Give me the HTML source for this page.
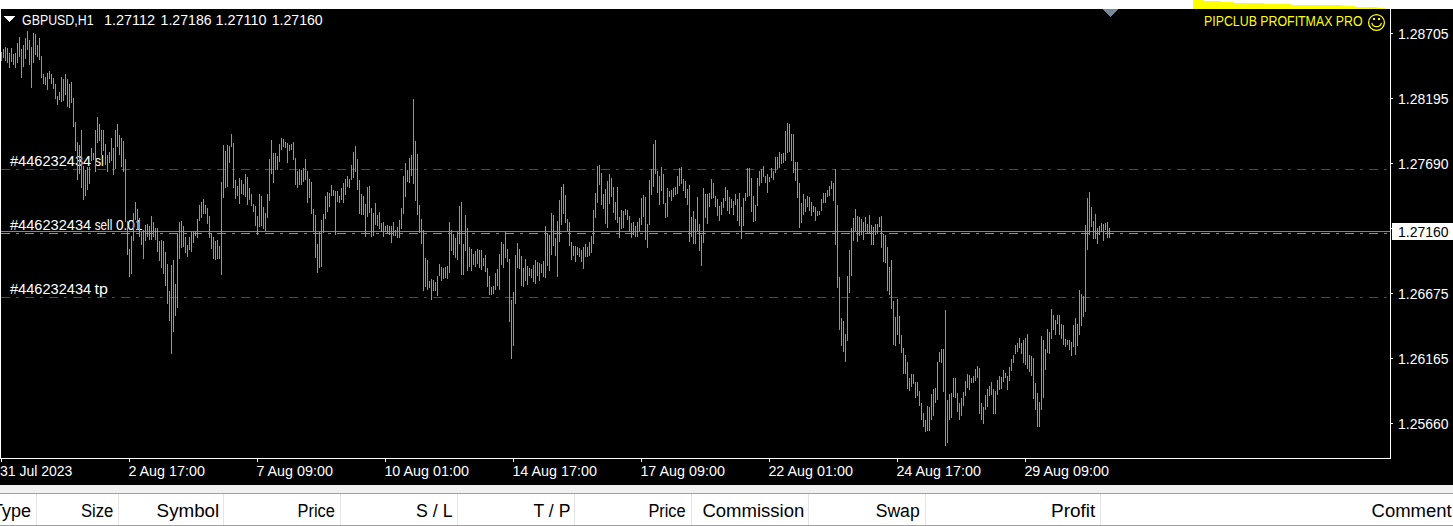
<!DOCTYPE html>
<html><head><meta charset="utf-8"><title>GBPUSD,H1</title>
<style>
html,body{margin:0;padding:0;width:1453px;height:526px;overflow:hidden;background:#ffffff;}
svg{display:block;font-family:"Liberation Sans",sans-serif;}
</style></head><body>
<svg width="1453" height="526" viewBox="0 0 1453 526" shape-rendering="crispEdges">
<rect x="0" y="0" width="1453" height="9" fill="#ffffff"/>
<rect x="1193" y="0" width="10" height="9" fill="#ffff00"/>
<rect x="1203" y="1" width="18" height="8" fill="#ffff00"/>
<rect x="1221" y="2" width="12" height="7" fill="#ffff00"/>
<rect x="1233" y="3" width="31" height="6" fill="#ffff00"/>
<rect x="1264" y="4" width="27" height="5" fill="#ffff00"/>
<rect x="1291" y="5" width="52" height="4" fill="#ffff00"/>
<rect x="1343" y="6" width="12" height="3" fill="#ffff00"/>
<rect x="1355" y="7" width="22" height="2" fill="#ffff00"/>
<rect x="1377" y="8" width="8" height="1" fill="#ffff00"/>
<rect x="0" y="9" width="1453" height="476" fill="#000000"/>
<rect x="0" y="485" width="1453" height="8" fill="#f0f0f0"/>
<rect x="0" y="493" width="1453" height="1" fill="#a0a0a0"/>
<rect x="0" y="494" width="1453" height="31" fill="#ffffff"/>
<rect x="0" y="525" width="1453" height="1" fill="#a0a0a0"/>
<rect x="36" y="494" width="1" height="31" fill="#e5e5e5"/>
<rect x="118" y="494" width="1" height="31" fill="#e5e5e5"/>
<rect x="223" y="494" width="1" height="31" fill="#e5e5e5"/>
<rect x="340" y="494" width="1" height="31" fill="#e5e5e5"/>
<rect x="457" y="494" width="1" height="31" fill="#e5e5e5"/>
<rect x="574" y="494" width="1" height="31" fill="#e5e5e5"/>
<rect x="691" y="494" width="1" height="31" fill="#e5e5e5"/>
<rect x="808" y="494" width="1" height="31" fill="#e5e5e5"/>
<rect x="925" y="494" width="1" height="31" fill="#e5e5e5"/>
<rect x="1100" y="494" width="1" height="31" fill="#e5e5e5"/>
<rect x="0" y="9" width="1" height="450" fill="#ffffff"/>
<rect x="1390" y="9" width="1" height="450" fill="#ffffff"/>
<rect x="0" y="458" width="1391" height="1" fill="#ffffff"/>
<rect x="1" y="459" width="1" height="3" fill="#ffffff"/>
<rect x="129" y="459" width="1" height="3" fill="#ffffff"/>
<rect x="257" y="459" width="1" height="3" fill="#ffffff"/>
<rect x="385" y="459" width="1" height="3" fill="#ffffff"/>
<rect x="513" y="459" width="1" height="3" fill="#ffffff"/>
<rect x="641" y="459" width="1" height="3" fill="#ffffff"/>
<rect x="769" y="459" width="1" height="3" fill="#ffffff"/>
<rect x="897" y="459" width="1" height="3" fill="#ffffff"/>
<rect x="1025" y="459" width="1" height="3" fill="#ffffff"/>
<rect x="1391" y="33" width="2" height="1" fill="#ffffff"/>
<rect x="1391" y="98" width="2" height="1" fill="#ffffff"/>
<rect x="1391" y="163" width="2" height="1" fill="#ffffff"/>
<rect x="1391" y="293" width="2" height="1" fill="#ffffff"/>
<rect x="1391" y="358" width="2" height="1" fill="#ffffff"/>
<rect x="1391" y="423" width="2" height="1" fill="#ffffff"/>
<path d="M1 169.5h9M16 169.5h3M25 169.5h9M40 169.5h3M49 169.5h9M64 169.5h3M73 169.5h9M88 169.5h3M97 169.5h9M112 169.5h3M121 169.5h9M136 169.5h3M145 169.5h9M160 169.5h3M169 169.5h9M184 169.5h3M193 169.5h9M208 169.5h3M217 169.5h9M232 169.5h3M241 169.5h9M256 169.5h3M265 169.5h9M280 169.5h3M289 169.5h9M304 169.5h3M313 169.5h9M328 169.5h3M337 169.5h9M352 169.5h3M361 169.5h9M376 169.5h3M385 169.5h9M400 169.5h3M409 169.5h9M424 169.5h3M433 169.5h9M448 169.5h3M457 169.5h9M472 169.5h3M481 169.5h9M496 169.5h3M505 169.5h9M520 169.5h3M529 169.5h9M544 169.5h3M553 169.5h9M568 169.5h3M577 169.5h9M592 169.5h3M601 169.5h9M616 169.5h3M625 169.5h9M640 169.5h3M649 169.5h9M664 169.5h3M673 169.5h9M688 169.5h3M697 169.5h9M712 169.5h3M721 169.5h9M736 169.5h3M745 169.5h9M760 169.5h3M769 169.5h9M784 169.5h3M793 169.5h9M808 169.5h3M817 169.5h9M832 169.5h3M841 169.5h9M856 169.5h3M865 169.5h9M880 169.5h3M889 169.5h9M904 169.5h3M913 169.5h9M928 169.5h3M937 169.5h9M952 169.5h3M961 169.5h9M976 169.5h3M985 169.5h9M1000 169.5h3M1009 169.5h9M1024 169.5h3M1033 169.5h9M1048 169.5h3M1057 169.5h9M1072 169.5h3M1081 169.5h9M1096 169.5h3M1105 169.5h9M1120 169.5h3M1129 169.5h9M1144 169.5h3M1153 169.5h9M1168 169.5h3M1177 169.5h9M1192 169.5h3M1201 169.5h9M1216 169.5h3M1225 169.5h9M1240 169.5h3M1249 169.5h9M1264 169.5h3M1273 169.5h9M1288 169.5h3M1297 169.5h9M1312 169.5h3M1321 169.5h9M1336 169.5h3M1345 169.5h9M1360 169.5h3M1369 169.5h9M1384 169.5h3" stroke="#ff0000" stroke-width="1" fill="none"/>
<path d="M1 297.5h9M16 297.5h3M25 297.5h9M40 297.5h3M49 297.5h9M64 297.5h3M73 297.5h9M88 297.5h3M97 297.5h9M112 297.5h3M121 297.5h9M136 297.5h3M145 297.5h9M160 297.5h3M169 297.5h9M184 297.5h3M193 297.5h9M208 297.5h3M217 297.5h9M232 297.5h3M241 297.5h9M256 297.5h3M265 297.5h9M280 297.5h3M289 297.5h9M304 297.5h3M313 297.5h9M328 297.5h3M337 297.5h9M352 297.5h3M361 297.5h9M376 297.5h3M385 297.5h9M400 297.5h3M409 297.5h9M424 297.5h3M433 297.5h9M448 297.5h3M457 297.5h9M472 297.5h3M481 297.5h9M496 297.5h3M505 297.5h9M520 297.5h3M529 297.5h9M544 297.5h3M553 297.5h9M568 297.5h3M577 297.5h9M592 297.5h3M601 297.5h9M616 297.5h3M625 297.5h9M640 297.5h3M649 297.5h9M664 297.5h3M673 297.5h9M688 297.5h3M697 297.5h9M712 297.5h3M721 297.5h9M736 297.5h3M745 297.5h9M760 297.5h3M769 297.5h9M784 297.5h3M793 297.5h9M808 297.5h3M817 297.5h9M832 297.5h3M841 297.5h9M856 297.5h3M865 297.5h9M880 297.5h3M889 297.5h9M904 297.5h3M913 297.5h9M928 297.5h3M937 297.5h9M952 297.5h3M961 297.5h9M976 297.5h3M985 297.5h9M1000 297.5h3M1009 297.5h9M1024 297.5h3M1033 297.5h9M1048 297.5h3M1057 297.5h9M1072 297.5h3M1081 297.5h9M1096 297.5h3M1105 297.5h9M1120 297.5h3M1129 297.5h9M1144 297.5h3M1153 297.5h9M1168 297.5h3M1177 297.5h9M1192 297.5h3M1201 297.5h9M1216 297.5h3M1225 297.5h9M1240 297.5h3M1249 297.5h9M1264 297.5h3M1273 297.5h9M1288 297.5h3M1297 297.5h9M1312 297.5h3M1321 297.5h9M1336 297.5h3M1345 297.5h9M1360 297.5h3M1369 297.5h9M1384 297.5h3" stroke="#ff0000" stroke-width="1" fill="none"/>
<rect x="1" y="231" width="1389" height="1" fill="#778899"/>
<path d="M1 233.5h9M16 233.5h3M25 233.5h9M40 233.5h3M49 233.5h9M64 233.5h3M73 233.5h9M88 233.5h3M97 233.5h9M112 233.5h3M121 233.5h9M136 233.5h3M145 233.5h9M160 233.5h3M169 233.5h9M184 233.5h3M193 233.5h9M208 233.5h3M217 233.5h9M232 233.5h3M241 233.5h9M256 233.5h3M265 233.5h9M280 233.5h3M289 233.5h9M304 233.5h3M313 233.5h9M328 233.5h3M337 233.5h9M352 233.5h3M361 233.5h9M376 233.5h3M385 233.5h9M400 233.5h3M409 233.5h9M424 233.5h3M433 233.5h9M448 233.5h3M457 233.5h9M472 233.5h3M481 233.5h9M496 233.5h3M505 233.5h9M520 233.5h3M529 233.5h9M544 233.5h3M553 233.5h9M568 233.5h3M577 233.5h9M592 233.5h3M601 233.5h9M616 233.5h3M625 233.5h9M640 233.5h3M649 233.5h9M664 233.5h3M673 233.5h9M688 233.5h3M697 233.5h9M712 233.5h3M721 233.5h9M736 233.5h3M745 233.5h9M760 233.5h3M769 233.5h9M784 233.5h3M793 233.5h9M808 233.5h3M817 233.5h9M832 233.5h3M841 233.5h9M856 233.5h3M865 233.5h9M880 233.5h3M889 233.5h9M904 233.5h3M913 233.5h9M928 233.5h3M937 233.5h9M952 233.5h3M961 233.5h9M976 233.5h3M985 233.5h9M1000 233.5h3M1009 233.5h9M1024 233.5h3M1033 233.5h9M1048 233.5h3M1057 233.5h9M1072 233.5h3M1081 233.5h9M1096 233.5h3M1105 233.5h9M1120 233.5h3M1129 233.5h9M1144 233.5h3M1153 233.5h9M1168 233.5h3M1177 233.5h9M1192 233.5h3M1201 233.5h9M1216 233.5h3M1225 233.5h9M1240 233.5h3M1249 233.5h9M1264 233.5h3M1273 233.5h9M1288 233.5h3M1297 233.5h9M1312 233.5h3M1321 233.5h9M1336 233.5h3M1345 233.5h9M1360 233.5h3M1369 233.5h9M1384 233.5h3" stroke="#32cd32" stroke-width="1" fill="none"/>
<rect x="1391" y="228" width="1" height="1" fill="#ffffff"/>
<rect x="1392" y="223" width="61" height="17" fill="#ffffff"/>
<path d="M4 16 L15 16 L9.5 22 Z" fill="#ffffff"/>
<path d="M1103 9 L1118 9 L1110.5 17 Z" fill="#778899"/>
<g shape-rendering="geometricPrecision"><circle cx="1376.5" cy="22.5" r="7.9" stroke="#ffff00" stroke-width="1.3" fill="none"/><path d="M1371.8 22.8 A4.9 4.9 0 0 0 1381.4 22.8" stroke="#ffff00" stroke-width="1.2" fill="none"/></g>
<rect x="1373" y="18" width="2" height="2" fill="#ffff00"/>
<rect x="1378" y="18" width="2" height="2" fill="#ffff00"/>
<g><text x="22" y="25" font-size="14" fill="#ffffff" text-anchor="start" textLength="71.6" lengthAdjust="spacingAndGlyphs" xml:space="preserve">GBPUSD,H1</text>
<text x="104" y="25" font-size="14" fill="#ffffff" text-anchor="start" textLength="51" lengthAdjust="spacingAndGlyphs" xml:space="preserve">1.27112</text>
<text x="160.6" y="25" font-size="14" fill="#ffffff" text-anchor="start" textLength="51" lengthAdjust="spacingAndGlyphs" xml:space="preserve">1.27186</text>
<text x="215.6" y="25" font-size="14" fill="#ffffff" text-anchor="start" textLength="51" lengthAdjust="spacingAndGlyphs" xml:space="preserve">1.27110</text>
<text x="271.7" y="25" font-size="14" fill="#ffffff" text-anchor="start" textLength="51" lengthAdjust="spacingAndGlyphs" xml:space="preserve">1.27160</text>
<text x="1204" y="26" font-size="14" fill="#ffff00" text-anchor="start" textLength="158.6" lengthAdjust="spacingAndGlyphs" xml:space="preserve">PIPCLUB PROFITMAX PRO</text>
<text x="1398" y="39" font-size="14" fill="#ffffff" text-anchor="start" textLength="50.5" lengthAdjust="spacingAndGlyphs" xml:space="preserve">1.28705</text>
<text x="1398" y="104" font-size="14" fill="#ffffff" text-anchor="start" textLength="50.5" lengthAdjust="spacingAndGlyphs" xml:space="preserve">1.28195</text>
<text x="1398" y="169" font-size="14" fill="#ffffff" text-anchor="start" textLength="50.5" lengthAdjust="spacingAndGlyphs" xml:space="preserve">1.27690</text>
<text x="1398" y="299" font-size="14" fill="#ffffff" text-anchor="start" textLength="50.5" lengthAdjust="spacingAndGlyphs" xml:space="preserve">1.26675</text>
<text x="1398" y="364" font-size="14" fill="#ffffff" text-anchor="start" textLength="50.5" lengthAdjust="spacingAndGlyphs" xml:space="preserve">1.26165</text>
<text x="1398" y="429" font-size="14" fill="#ffffff" text-anchor="start" textLength="50.5" lengthAdjust="spacingAndGlyphs" xml:space="preserve">1.25660</text>
<text x="1398" y="237" font-size="14" fill="#000000" text-anchor="start" textLength="50.5" lengthAdjust="spacingAndGlyphs" xml:space="preserve">1.27160</text>
<text x="0" y="476" font-size="14" fill="#ffffff" text-anchor="start" xml:space="preserve">31 Jul 2023</text>
<text x="128.4" y="476" font-size="14" fill="#ffffff" text-anchor="start" textLength="76.54" lengthAdjust="spacingAndGlyphs" xml:space="preserve">2 Aug 17:00</text>
<text x="256.4" y="476" font-size="14" fill="#ffffff" text-anchor="start" textLength="76.54" lengthAdjust="spacingAndGlyphs" xml:space="preserve">7 Aug 09:00</text>
<text x="384.4" y="476" font-size="14" fill="#ffffff" text-anchor="start" textLength="84.51" lengthAdjust="spacingAndGlyphs" xml:space="preserve">10 Aug 01:00</text>
<text x="512.4" y="476" font-size="14" fill="#ffffff" text-anchor="start" textLength="84.51" lengthAdjust="spacingAndGlyphs" xml:space="preserve">14 Aug 17:00</text>
<text x="640.4" y="476" font-size="14" fill="#ffffff" text-anchor="start" textLength="84.51" lengthAdjust="spacingAndGlyphs" xml:space="preserve">17 Aug 09:00</text>
<text x="768.4" y="476" font-size="14" fill="#ffffff" text-anchor="start" textLength="84.51" lengthAdjust="spacingAndGlyphs" xml:space="preserve">22 Aug 01:00</text>
<text x="896.4" y="476" font-size="14" fill="#ffffff" text-anchor="start" textLength="84.51" lengthAdjust="spacingAndGlyphs" xml:space="preserve">24 Aug 17:00</text>
<text x="1024.4" y="476" font-size="14" fill="#ffffff" text-anchor="start" textLength="84.51" lengthAdjust="spacingAndGlyphs" xml:space="preserve">29 Aug 09:00</text>
<text x="10" y="166" font-size="14" fill="#ffffff" text-anchor="start" textLength="81.2" lengthAdjust="spacingAndGlyphs" xml:space="preserve">#446232434</text>
<text x="10" y="230" font-size="14" fill="#ffffff" text-anchor="start" textLength="81.2" lengthAdjust="spacingAndGlyphs" xml:space="preserve">#446232434</text>
<text x="10" y="294" font-size="14" fill="#ffffff" text-anchor="start" textLength="81.2" lengthAdjust="spacingAndGlyphs" xml:space="preserve">#446232434</text>
<text x="94.7" y="166" font-size="14" fill="#ffffff" text-anchor="start" textLength="9.2" lengthAdjust="spacingAndGlyphs" xml:space="preserve">sl</text>
<text x="94.7" y="230" font-size="14" fill="#ffffff" text-anchor="start" textLength="17.6" lengthAdjust="spacingAndGlyphs" xml:space="preserve">sell</text>
<text x="116.0" y="230" font-size="14" fill="#ffffff" text-anchor="start" textLength="26.5" lengthAdjust="spacingAndGlyphs" xml:space="preserve">0.01</text>
<text x="94.6" y="294" font-size="14" fill="#ffffff" text-anchor="start" textLength="13.4" lengthAdjust="spacingAndGlyphs" xml:space="preserve">tp</text>
<text x="31" y="517" font-size="18" fill="#000000" text-anchor="end" xml:space="preserve">Type</text>
<text x="80.9" y="517" font-size="18" fill="#000000" text-anchor="start" textLength="32.36" lengthAdjust="spacingAndGlyphs" xml:space="preserve">Size</text>
<text x="156.6" y="517" font-size="18" fill="#000000" text-anchor="start" textLength="62.66" lengthAdjust="spacingAndGlyphs" xml:space="preserve">Symbol</text>
<text x="297.5" y="517" font-size="18" fill="#000000" text-anchor="start" textLength="37.33" lengthAdjust="spacingAndGlyphs" xml:space="preserve">Price</text>
<text x="416.1" y="517" font-size="18" fill="#000000" text-anchor="start" textLength="36.4" lengthAdjust="spacingAndGlyphs" xml:space="preserve">S / L</text>
<text x="533.6" y="517" font-size="18" fill="#000000" text-anchor="start" textLength="36.75" lengthAdjust="spacingAndGlyphs" xml:space="preserve">T / P</text>
<text x="648.4" y="517" font-size="18" fill="#000000" text-anchor="start" textLength="37.23" lengthAdjust="spacingAndGlyphs" xml:space="preserve">Price</text>
<text x="702.4" y="517" font-size="18" fill="#000000" text-anchor="start" textLength="101.92" lengthAdjust="spacingAndGlyphs" xml:space="preserve">Commission</text>
<text x="875.7" y="517" font-size="18" fill="#000000" text-anchor="start" textLength="43.98" lengthAdjust="spacingAndGlyphs" xml:space="preserve">Swap</text>
<text x="1051.1" y="517" font-size="18" fill="#000000" text-anchor="start" textLength="44.22" lengthAdjust="spacingAndGlyphs" xml:space="preserve">Profit</text>
<text x="1371.6" y="517" font-size="18" fill="#000000" text-anchor="start" textLength="80.08" lengthAdjust="spacingAndGlyphs" xml:space="preserve">Comment</text></g>
<path d="M1.5 52V61M3.5 49V58M5.5 47V61M7.5 48V63M9.5 53V68M11.5 48V62M13.5 54V65M15.5 53V68M17.5 43V63M19.5 37V57M21.5 49V78M23.5 45V67M25.5 38V59M27.5 31V50M29.5 40V65M31.5 47V88M33.5 33V63M35.5 34V55M37.5 45V57M39.5 38V60M41.5 56V78M43.5 74V84M45.5 77V85M47.5 73V90M49.5 71V79M51.5 74V84M53.5 78V89M55.5 84V99M57.5 96V105M59.5 92V100M61.5 77V102M63.5 79V101M65.5 74V95M67.5 79V107M69.5 84V108M71.5 82V103M73.5 98V127M75.5 122V151M77.5 142V180M79.5 145V174M81.5 130V188M83.5 166V200M85.5 170V196M87.5 167V190M89.5 167V184M91.5 148V161M93.5 153V160M95.5 130V172M97.5 117V143M99.5 124V141M101.5 130V155M103.5 130V151M105.5 144V165M107.5 155V172M109.5 152V163M111.5 138V161M113.5 148V175M115.5 130V169M117.5 124V147M119.5 135V155M121.5 138V167M123.5 141V172M125.5 159V222M127.5 221V255M129.5 249V277M131.5 236V274M133.5 213V241M135.5 202V220M137.5 209V230M139.5 218V237M141.5 232V245M143.5 230V259M145.5 225V241M147.5 224V237M149.5 226V240M151.5 216V240M153.5 222V237M155.5 228V240M157.5 228V252M159.5 241V261M161.5 240V268M163.5 241V274M165.5 252V286M167.5 264V304M169.5 291V321M171.5 265V354M173.5 260V332M175.5 284V316M177.5 234V308M179.5 222V259M181.5 221V248M183.5 226V247M185.5 237V253M187.5 245V257M189.5 237V250M191.5 232V252M193.5 232V243M195.5 231V236M197.5 219V238M199.5 205V221M201.5 202V218M203.5 199V214M205.5 205V214M207.5 208V224M209.5 216V238M211.5 233V249M213.5 237V259M215.5 241V260M217.5 240V259M219.5 246V259M221.5 182V275M223.5 145V198M225.5 151V188M227.5 145V187M229.5 146V163M231.5 134V147M233.5 143V188M235.5 180V199M237.5 186V196M239.5 178V204M241.5 180V194M243.5 184V195M245.5 174V197M247.5 177V205M249.5 188V200M251.5 194V206M253.5 204V212M255.5 206V226M257.5 216V235M259.5 194V227M261.5 196V226M263.5 207V229M265.5 213V231M267.5 194V218M269.5 159V201M271.5 140V174M273.5 153V183M275.5 153V170M277.5 156V170M279.5 144V162M281.5 138V150M283.5 139V147M285.5 142V148M287.5 143V163M289.5 145V151M291.5 144V150M293.5 142V160M295.5 158V185M297.5 171V188M299.5 169V185M301.5 170V185M303.5 168V182M305.5 159V180M307.5 171V203M309.5 179V198M311.5 182V214M313.5 209V232M315.5 215V258M317.5 244V273M319.5 232V268M321.5 220V267M323.5 214V233M325.5 196V219M327.5 192V212M329.5 193V207M331.5 185V196M333.5 190V196M335.5 191V235M337.5 191V202M339.5 196V203M341.5 188V200M343.5 183V203M345.5 179V195M347.5 176V187M349.5 179V188M351.5 165V180M353.5 152V178M355.5 146V172M357.5 159V190M359.5 180V214M361.5 194V215M363.5 196V215M365.5 204V237M367.5 187V217M369.5 186V213M371.5 208V237M373.5 213V236M375.5 203V225M377.5 215V226M379.5 212V229M381.5 223V232M383.5 222V237M385.5 226V232M387.5 225V233M389.5 226V235M391.5 226V243M393.5 222V236M395.5 230V236M397.5 227V238M399.5 220V238M401.5 208V229M403.5 176V214M405.5 163V197M407.5 170V182M409.5 158V183M411.5 155V176M413.5 99V184M415.5 141V201M417.5 154V215M419.5 205V233M421.5 219V244M423.5 230V291M425.5 258V287M427.5 260V290M429.5 281V288M431.5 279V300M433.5 280V291M435.5 282V291M437.5 276V296M439.5 264V276M441.5 267V281M443.5 268V279M445.5 267V278M447.5 266V279M449.5 222V273M451.5 230V251M453.5 234V255M455.5 238V258M457.5 231V260M459.5 206V244M461.5 202V275M463.5 244V275M465.5 215V251M467.5 228V271M469.5 247V267M471.5 249V271M473.5 254V265M475.5 251V267M477.5 249V264M479.5 250V268M481.5 250V270M483.5 258V266M485.5 255V272M487.5 268V287M489.5 276V295M491.5 287V295M493.5 286V294M495.5 273V290M497.5 269V286M499.5 254V290M501.5 242V265M503.5 244V268M505.5 232V258M507.5 249V262M509.5 259V322M511.5 300V359M513.5 292V346M515.5 255V304M517.5 243V268M519.5 249V269M521.5 256V286M523.5 268V287M525.5 259V281M527.5 266V285M529.5 268V276M531.5 269V278M533.5 265V282M535.5 260V284M537.5 262V276M539.5 263V281M541.5 264V273M543.5 261V277M545.5 226V278M547.5 233V266M549.5 235V271M551.5 213V255M553.5 215V246M555.5 238V256M557.5 221V277M559.5 200V242M561.5 187V225M563.5 184V214M565.5 195V223M567.5 219V231M569.5 222V246M571.5 242V260M573.5 246V256M575.5 246V262M577.5 247V255M579.5 248V257M581.5 250V262M583.5 247V269M585.5 244V257M587.5 247V257M589.5 242V256M591.5 236V253M593.5 210V244M595.5 193V218M597.5 166V203M599.5 165V185M601.5 173V205M603.5 194V209M605.5 189V224M607.5 181V228M609.5 174V204M611.5 178V197M613.5 187V213M615.5 202V220M617.5 187V223M619.5 217V238M621.5 210V229M623.5 211V228M625.5 209V215M627.5 210V220M629.5 216V232M631.5 223V238M633.5 222V235M635.5 226V237M637.5 222V237M639.5 218V231M641.5 198V225M643.5 195V217M645.5 197V240M647.5 224V248M649.5 180V225M651.5 169V195M653.5 144V187M655.5 140V174M657.5 171V193M659.5 176V205M661.5 167V191M663.5 174V204M665.5 203V218M667.5 188V217M669.5 191V197M671.5 190V201M673.5 188V197M675.5 187V195M677.5 176V194M679.5 168V186M681.5 167V184M683.5 179V191M685.5 181V198M687.5 189V205M689.5 185V242M691.5 217V237M693.5 211V244M695.5 219V244M697.5 197V232M699.5 224V251M701.5 235V266M703.5 188V243M705.5 194V218M707.5 194V224M709.5 193V207M711.5 179V199M713.5 183V198M715.5 196V207M717.5 199V216M719.5 206V221M721.5 202V215M723.5 198V208M725.5 187V201M727.5 190V211M729.5 197V214M731.5 199V208M733.5 201V215M735.5 194V205M737.5 199V221M739.5 193V226M741.5 207V239M743.5 198V226M745.5 193V201M747.5 168V197M749.5 168V196M751.5 178V212M753.5 196V222M755.5 205V221M757.5 178V206M759.5 171V186M761.5 169V183M763.5 166V177M765.5 176V183M767.5 174V193M769.5 177V182M771.5 168V178M773.5 171V180M775.5 157V173M777.5 157V169M779.5 152V168M781.5 154V164M783.5 153V163M785.5 131V161M787.5 123V153M789.5 124V152M791.5 134V161M793.5 134V173M795.5 162V181M797.5 162V198M799.5 183V228M801.5 203V223M803.5 194V215M805.5 199V212M807.5 196V207M809.5 197V211M811.5 202V216M813.5 206V212M815.5 207V221M817.5 211V216M819.5 211V215M821.5 199V211M823.5 193V203M825.5 193V203M827.5 190V197M829.5 186V196M831.5 181V189M833.5 183V201M835.5 169V245M837.5 205V288M839.5 277V330M841.5 318V346M843.5 321V352M845.5 334V362M847.5 276V341M849.5 250V293M851.5 228V276M853.5 218V241M855.5 209V231M857.5 216V242M859.5 217V236M861.5 219V235M863.5 222V240M865.5 217V232M867.5 224V234M869.5 215V234M871.5 225V245M873.5 227V245M875.5 224V235M877.5 224V234M879.5 217V227M881.5 216V248M883.5 234V262M885.5 235V263M887.5 247V291M889.5 267V295M891.5 260V309M893.5 301V345M895.5 317V346M897.5 299V335M899.5 316V344M901.5 335V353M903.5 348V374M905.5 355V374M907.5 362V389M909.5 378V391M911.5 374V387M913.5 374V384M915.5 382V398M917.5 382V396M919.5 391V406M921.5 403V420M923.5 413V427M925.5 420V432M927.5 406V431M929.5 407V431M931.5 394V420M933.5 389V416M935.5 388V403M937.5 362V400M939.5 352V362M941.5 349V363M943.5 349V392M945.5 310V446M947.5 400V443M949.5 394V420M951.5 393V418M953.5 378V397M955.5 378V398M957.5 393V412M959.5 403V420M961.5 398V416M963.5 392V406M965.5 381V396M967.5 374V388M969.5 375V390M971.5 378V383M973.5 376V383M975.5 369V381M977.5 366V378M979.5 368V414M981.5 403V420M983.5 407V424M985.5 395V410M987.5 389V407M989.5 386V396M991.5 382V395M993.5 389V414M995.5 391V414M997.5 380V395M999.5 376V390M1001.5 377V389M1003.5 370V382M1005.5 373V378M1007.5 376V390M1009.5 367V381M1011.5 359V371M1013.5 355V363M1015.5 345V354M1017.5 343V352M1019.5 338V348M1021.5 343V354M1023.5 340V363M1025.5 338V365M1027.5 334V369M1029.5 355V372M1031.5 356V376M1033.5 358V399M1035.5 383V410M1037.5 393V427M1039.5 402V427M1041.5 336V410M1043.5 340V398M1045.5 349V370M1047.5 329V353M1049.5 332V354M1051.5 309V339M1053.5 315V330M1055.5 320V335M1057.5 315V324M1059.5 315V335M1061.5 324V339M1063.5 325V345M1065.5 339V347M1067.5 340V345M1069.5 340V350M1071.5 342V356M1073.5 325V347M1075.5 318V355M1077.5 324V346M1079.5 290V335M1081.5 294V326M1083.5 296V317M1085.5 225V312M1087.5 198V250M1089.5 192V235M1091.5 207V227M1093.5 221V239M1095.5 214V239M1097.5 228V244M1099.5 226V235M1101.5 223V232M1103.5 224V241M1105.5 223V230M1107.5 222V238M1109.5 228V238" stroke="#00ff00" stroke-width="1" fill="none"/>
</svg>
</body></html>
